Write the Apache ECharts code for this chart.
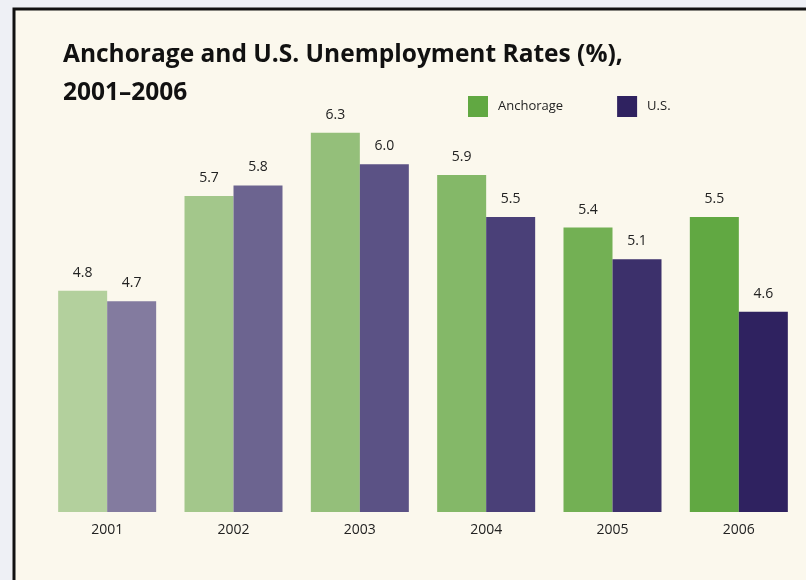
<!DOCTYPE html>
<html lang="en">
<head>
    <meta charset="UTF-8">
    <title>Anchorage and U.S. Unemployment Rates</title>
    <script src="https://cdn.jsdelivr.net/npm/echarts@6/dist/echarts.min.js"></script>
    <style>
        html, body { margin: 0; padding: 0; background: #eef0f5; }
    </style>
</head>
<body>
<div id="main" style="width: 806px;height:580px;"></div>

<script type="text/javascript">
    var years = ['2001', '2002', '2003', '2004', '2005', '2006'];
    var anchorage = [4.8, 5.7, 6.3, 5.9, 5.4, 5.5];
    var us = [4.7, 5.8, 6.0, 5.5, 5.1, 4.6];

    // bars get darker year by year
    var greenShades = ['#b3d09d', '#a3c78b', '#94bf7a', '#84b868', '#73b054', '#61a842'];
    var purpleShades = ['#837b9f', '#6c6490', '#5b5285', '#4a4078', '#3c306b', '#2f2260'];

    function colored(values, shades) {
        return values.map(function (v, i) {
            return { value: v, itemStyle: { color: shades[i] } };
        });
    }

    var myChart = echarts.init(document.getElementById('main'));

    var labelStyle = {
        show: true,
        position: 'top',
        distance: 11,
        color: '#222',
        fontSize: 14,
        fontFamily: 'Open Sans',
        formatter: function (p) { return p.value.toFixed(1); }
    };

    var option = {
        backgroundColor: '#eef0f5',
        graphic: [{
            type: 'rect',
            shape: { x: 14, y: 9, width: 800, height: 580 },
            style: { fill: '#fbf8ed', stroke: '#111', lineWidth: 3 },
            z: -10
        }],
        title: {
            text: 'Anchorage and U.S. Unemployment Rates (%),\n2001\u20132006',
            left: 58,
            top: 31,
            textStyle: {
                fontFamily: 'Open Sans',
                fontWeight: 'bold',
                fontSize: 24.5,
                lineHeight: 38,
                color: '#111'
            }
        },
        legend: {
            data: ['Anchorage', 'U.S.'],
            left: 468,
            top: 96,
            padding: 0,
            itemWidth: 20,
            itemHeight: 21,
            itemGap: 54,
            icon: 'rect',
            textStyle: { fontFamily: 'Open Sans', fontSize: 13, color: '#222', padding: [0, 0, 0, 5] }
        },
        grid: {
            left: 44,
            right: 4,
            top: 59,
            bottom: 68
        },
        xAxis: {
            type: 'category',
            data: years,
            axisLine: { show: false },
            axisTick: { show: false },
            axisLabel: { color: '#222', fontSize: 14, fontFamily: 'Open Sans', margin: 11 }
        },
        yAxis: {
            type: 'value',
            min: 2.7,
            max: 7,
            show: false,
            splitLine: { show: false }
        },
        series: [
            {
                name: 'Anchorage',
                type: 'bar',
                barWidth: 49,
                barGap: 0,
                itemStyle: { color: '#61a842' },
                label: labelStyle,
                data: colored(anchorage, greenShades)
            },
            {
                name: 'U.S.',
                type: 'bar',
                barWidth: 49,
                barGap: 0,
                itemStyle: { color: '#2f2260' },
                label: labelStyle,
                data: colored(us, purpleShades)
            }
        ]
    };
    myChart.setOption(option);
</script>
</body>
</html>
